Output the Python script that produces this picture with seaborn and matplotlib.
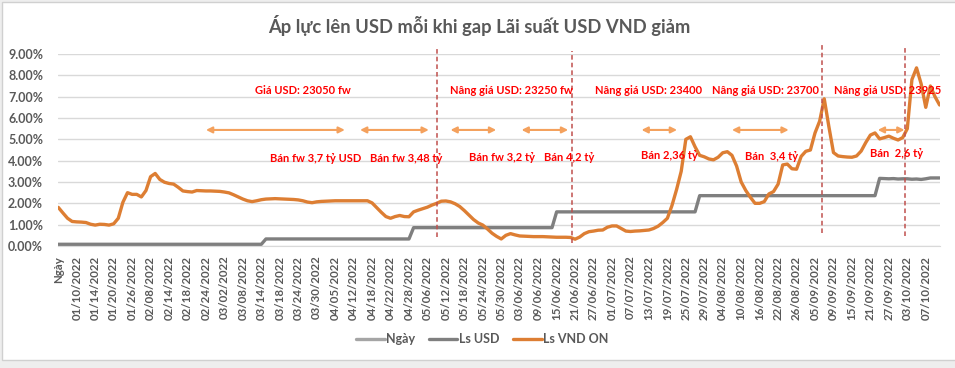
import numpy as np
import pandas as pd
import matplotlib
matplotlib.use('Agg')
import matplotlib.pyplot as plt
from matplotlib.lines import Line2D
from matplotlib.patches import Rectangle
from matplotlib.ticker import FuncFormatter
import seaborn as sns

# 1. Du lieu (doc tu bieu do goc, don vi %)
tick_labels = ['Ngày', '01/10/2022', '01/14/2022', '01/20/2022', '01/26/2022', '02/08/2022',
               '02/14/2022', '02/18/2022', '02/24/2022', '03/02/2022', '03/08/2022', '03/14/2022',
               '03/18/2022', '03/24/2022', '03/30/2022', '04/05/2022', '04/12/2022', '04/18/2022',
               '04/22/2022', '04/28/2022', '05/06/2022', '05/12/2022', '05/18/2022', '05/24/2022',
               '05/30/2022', '03/06/2022', '09/06/2022', '15/06/2022', '21/06/2022', '27/06/2022',
               '01/07/2022', '07/07/2022', '13/07/2022', '19/07/2022', '25/07/2022', '29/07/2022',
               '04/08/2022', '10/08/2022', '16/08/2022', '22/08/2022', '26/08/2022', '05/09/2022',
               '09/09/2022', '15/09/2022', '21/09/2022', '27/09/2022', '03/10/2022', '07/10/2022']

ls_usd = [0.08, 0.08, 0.08, 0.08, 0.08, 0.08, 0.08, 0.08, 0.08, 0.08,
          0.08, 0.08, 0.08, 0.08, 0.08, 0.08, 0.08, 0.08, 0.08, 0.08,
          0.08, 0.08, 0.08, 0.08, 0.08, 0.08, 0.08, 0.08, 0.08, 0.08,
          0.08, 0.08, 0.08, 0.08, 0.08, 0.08, 0.08, 0.08, 0.08, 0.08,
          0.08, 0.08, 0.08, 0.08, 0.08, 0.33, 0.33, 0.33, 0.33, 0.33,
          0.33, 0.33, 0.33, 0.33, 0.33, 0.33, 0.33, 0.33, 0.33, 0.33,
          0.33, 0.33, 0.33, 0.33, 0.33, 0.33, 0.33, 0.33, 0.33, 0.33,
          0.33, 0.33, 0.33, 0.33, 0.33, 0.33, 0.33, 0.86, 0.86, 0.86,
          0.86, 0.86, 0.86, 0.86, 0.86, 0.86, 0.86, 0.86, 0.86, 0.86,
          0.86, 0.86, 0.86, 0.86, 0.86, 0.86, 0.86, 0.86, 0.86, 0.86,
          0.86, 0.86, 0.86, 0.86, 0.86, 0.86, 0.86, 0.86, 1.60, 1.60,
          1.60, 1.60, 1.60, 1.60, 1.60, 1.60, 1.60, 1.60, 1.60, 1.60,
          1.60, 1.60, 1.60, 1.60, 1.60, 1.60, 1.60, 1.60, 1.60, 1.60,
          1.60, 1.60, 1.60, 1.60, 1.60, 1.60, 1.60, 1.60, 1.60, 2.36,
          2.36, 2.36, 2.36, 2.36, 2.36, 2.36, 2.36, 2.36, 2.36, 2.36,
          2.36, 2.36, 2.36, 2.36, 2.36, 2.36, 2.36, 2.36, 2.36, 2.36,
          2.36, 2.36, 2.36, 2.36, 2.36, 2.36, 2.36, 2.36, 2.36, 2.36,
          2.36, 2.36, 2.36, 2.36, 2.36, 2.36, 2.36, 2.36, 3.17, 3.16,
          3.15, 3.16, 3.14, 3.15, 3.15, 3.13, 3.14, 3.12, 3.15, 3.19,
          3.19, 3.19]

ls_vnd = [1.81, 1.55, 1.30, 1.15, 1.13, 1.12, 1.10, 1.02, 0.98, 1.02,
          1.01, 0.98, 1.04, 1.30, 2.05, 2.50, 2.42, 2.42, 2.30, 2.60,
          3.25, 3.40, 3.12, 2.99, 2.93, 2.90, 2.75, 2.58, 2.55, 2.53,
          2.60, 2.59, 2.58, 2.58, 2.57, 2.56, 2.53, 2.49, 2.40, 2.30,
          2.20, 2.12, 2.08, 2.12, 2.17, 2.20, 2.21, 2.22, 2.21, 2.20,
          2.19, 2.18, 2.16, 2.12, 2.06, 2.03, 2.07, 2.09, 2.10, 2.11,
          2.12, 2.12, 2.12, 2.12, 2.12, 2.12, 2.12, 2.12, 2.02, 1.80,
          1.58, 1.38, 1.30, 1.38, 1.43, 1.38, 1.37, 1.60, 1.68, 1.75,
          1.82, 1.92, 2.00, 2.10, 2.11, 2.07, 1.98, 1.85, 1.66, 1.45,
          1.24, 1.08, 0.98, 0.80, 0.60, 0.45, 0.33, 0.50, 0.58, 0.52,
          0.47, 0.46, 0.45, 0.44, 0.44, 0.44, 0.43, 0.42, 0.41, 0.41,
          0.41, 0.40, 0.32, 0.42, 0.58, 0.67, 0.70, 0.74, 0.75, 0.88,
          0.94, 0.94, 0.82, 0.70, 0.68, 0.70, 0.71, 0.73, 0.75, 0.82,
          0.93, 1.10, 1.30, 1.90, 2.65, 3.50, 5.00, 5.12, 4.65, 4.25,
          4.18, 4.08, 4.04, 4.16, 4.37, 4.42, 4.25, 3.75, 3.00, 2.60,
          2.28, 2.00, 2.00, 2.08, 2.44, 2.55, 2.90, 3.80, 3.84, 3.62,
          3.60, 4.20, 4.44, 4.50, 5.30, 5.85, 6.90, 5.60, 4.38, 4.22,
          4.19, 4.17, 4.16, 4.22, 4.45, 4.85, 5.20, 5.30, 5.02, 5.08,
          5.15, 5.05, 4.97, 5.08, 5.50, 7.80, 8.35, 7.60, 6.50, 7.50,
          7.00, 6.61]

# Chu thich tren bieu do (vi tri theo so thu tu ngay, gia tri %)
price_notes = ['Giá USD: 23050 fw', 'Nâng giá USD: 23250 fw', 'Nâng giá USD: 23400',
               'Nâng giá USD: 23700', 'Nâng giá USD: 23925']
price_x = [53.1, 98.2, 127.9, 153.3, 179.8]
sale_notes = ['Bán fw 3,7 tỷ USD', 'Bán fw 3,48 tỷ', 'Bán fw 3,2 tỷ', 'Bán 4,2 tỷ',
              'Bán 2,36 tỷ', 'Bán  3,4 tỷ', 'Bán  2,6 tỷ']
sale_x = [55.7, 75.5, 96.1, 110.8, 132.4, 154.6, 181.6]
sale_y = [4.11, 4.11, 4.15, 4.15, 4.22, 4.19, 4.35]
arrow_start = [32.0, 65.4, 85.0, 100.4, 126.4, 146.0, 177.6]
arrow_end = [62.1, 80.3, 94.9, 110.5, 134.1, 158.3, 183.4]
vline_x = [82.1, 111.3, 165.6, 183.4]
vline_top = [9.22, 9.16, 9.50, 9.39]
vline_bottom = [0.41, 0.16, 0.60, 0.47]

# 2. Ve bieu do
sns.set_style('white')
plt.rcParams['font.family'] = ['Lato', 'Open Sans', 'DejaVu Sans']
txt_color = '#595959'
grid_color = '#D9D9D9'

n = len(ls_vnd)
df = pd.DataFrame({'idx': np.arange(n), 'Ls USD': ls_usd, 'Ls VND ON': ls_vnd})
df_long = df.melt(id_vars='idx', var_name='series', value_name='rate')

fig = plt.figure(figsize=(9.55, 3.68), dpi=100, facecolor='#EEEEEE')
ax = fig.add_axes([58.3 / 955, 1 - 246 / 368, (939.6 - 58.3) / 955, 192 / 368])

colors = {'Ls USD': '#7F7F7F', 'Ls VND ON': '#DD7E33'}
sns.lineplot(data=df_long, x='idx', y='rate', hue='series', palette=colors,
             linewidth=2.4, ax=ax, legend=False)

ax.set_xlim(0, n - 1)
ax.set_ylim(0, 9)
ax.set_yticks(np.arange(0, 10, 1))
ax.yaxis.set_major_formatter(FuncFormatter(lambda v, p: '%.2f%%' % v))
ax.grid(axis='y', color=grid_color, lw=1)
ax.set_axisbelow(True)
for s in ['top', 'right', 'left']:
    ax.spines[s].set_visible(False)
ax.spines['bottom'].set_color(grid_color)
ax.set_xlabel('')
ax.set_ylabel('')

ax.set_xticks(np.arange(0, n, 4))
ax.set_xticklabels(tick_labels, rotation=90)
ax.set_xticks(np.arange(n), minor=True)
ax.tick_params(axis='x', which='both', length=4, color=grid_color, pad=3,
               labelsize=8.3, labelcolor=txt_color)
ax.tick_params(axis='y', length=0, pad=11, labelsize=9, labelcolor=txt_color)
for lab in ax.get_xticklabels() + ax.get_yticklabels():
    lab.set_fontweight('bold')

# duong doc gach dut
for xv, yt, yb in zip(vline_x, vline_top, vline_bottom):
    ax.plot([xv, xv], [yb, yt], color='#C0504D', lw=1.1, ls=(0, (3, 2)), clip_on=False)

# mui ten hai dau
for xs, xe in zip(arrow_start, arrow_end):
    ax.annotate('', xy=(xe, 5.44), xytext=(xs, 5.44),
                arrowprops=dict(arrowstyle='<|-|>', color='#F4A15D', lw=1.5,
                                mutation_scale=9, shrinkA=0, shrinkB=0))

for t, xv in zip(price_notes, price_x):
    ax.text(xv, 7.28, t, color='#FF0000', fontsize=8, fontweight='bold',
            ha='center', va='center')
for t, xv, yv in zip(sale_notes, sale_x, sale_y):
    ax.text(xv, yv, t, color='#FF0000', fontsize=8, fontweight='bold',
            ha='center', va='center')

fig.text(479.5 / 955, 1 - 26 / 368, 'Áp lực lên USD mỗi khi gap Lãi suất USD VND giảm',
         ha='center', va='center', fontsize=13.2, fontweight='bold', color=txt_color)

handles = [Line2D([], [], color='#A5A5A5', lw=2.4),
           Line2D([], [], color=colors['Ls USD'], lw=2.4),
           Line2D([], [], color=colors['Ls VND ON'], lw=2.4)]
fig.legend(handles, ['Ngày', 'Ls USD', 'Ls VND ON'], loc='center',
           bbox_to_anchor=(482 / 955, 1 - 339 / 368), ncol=3, frameon=False,
           handlelength=2.3, handletextpad=0.1, columnspacing=1.1,
           prop={'size': 9, 'weight': 'bold'}, labelcolor=txt_color)

# khung bieu do (nen trang, vien xam)
fig.patches.append(Rectangle((2 / 955, 1 - 360 / 368), 960 / 955, 358 / 368,
                             transform=fig.transFigure, facecolor='white',
                             edgecolor='#D0D0D0', lw=1, zorder=-1))

fig.savefig('out.png', dpi=100, facecolor=fig.get_facecolor())
